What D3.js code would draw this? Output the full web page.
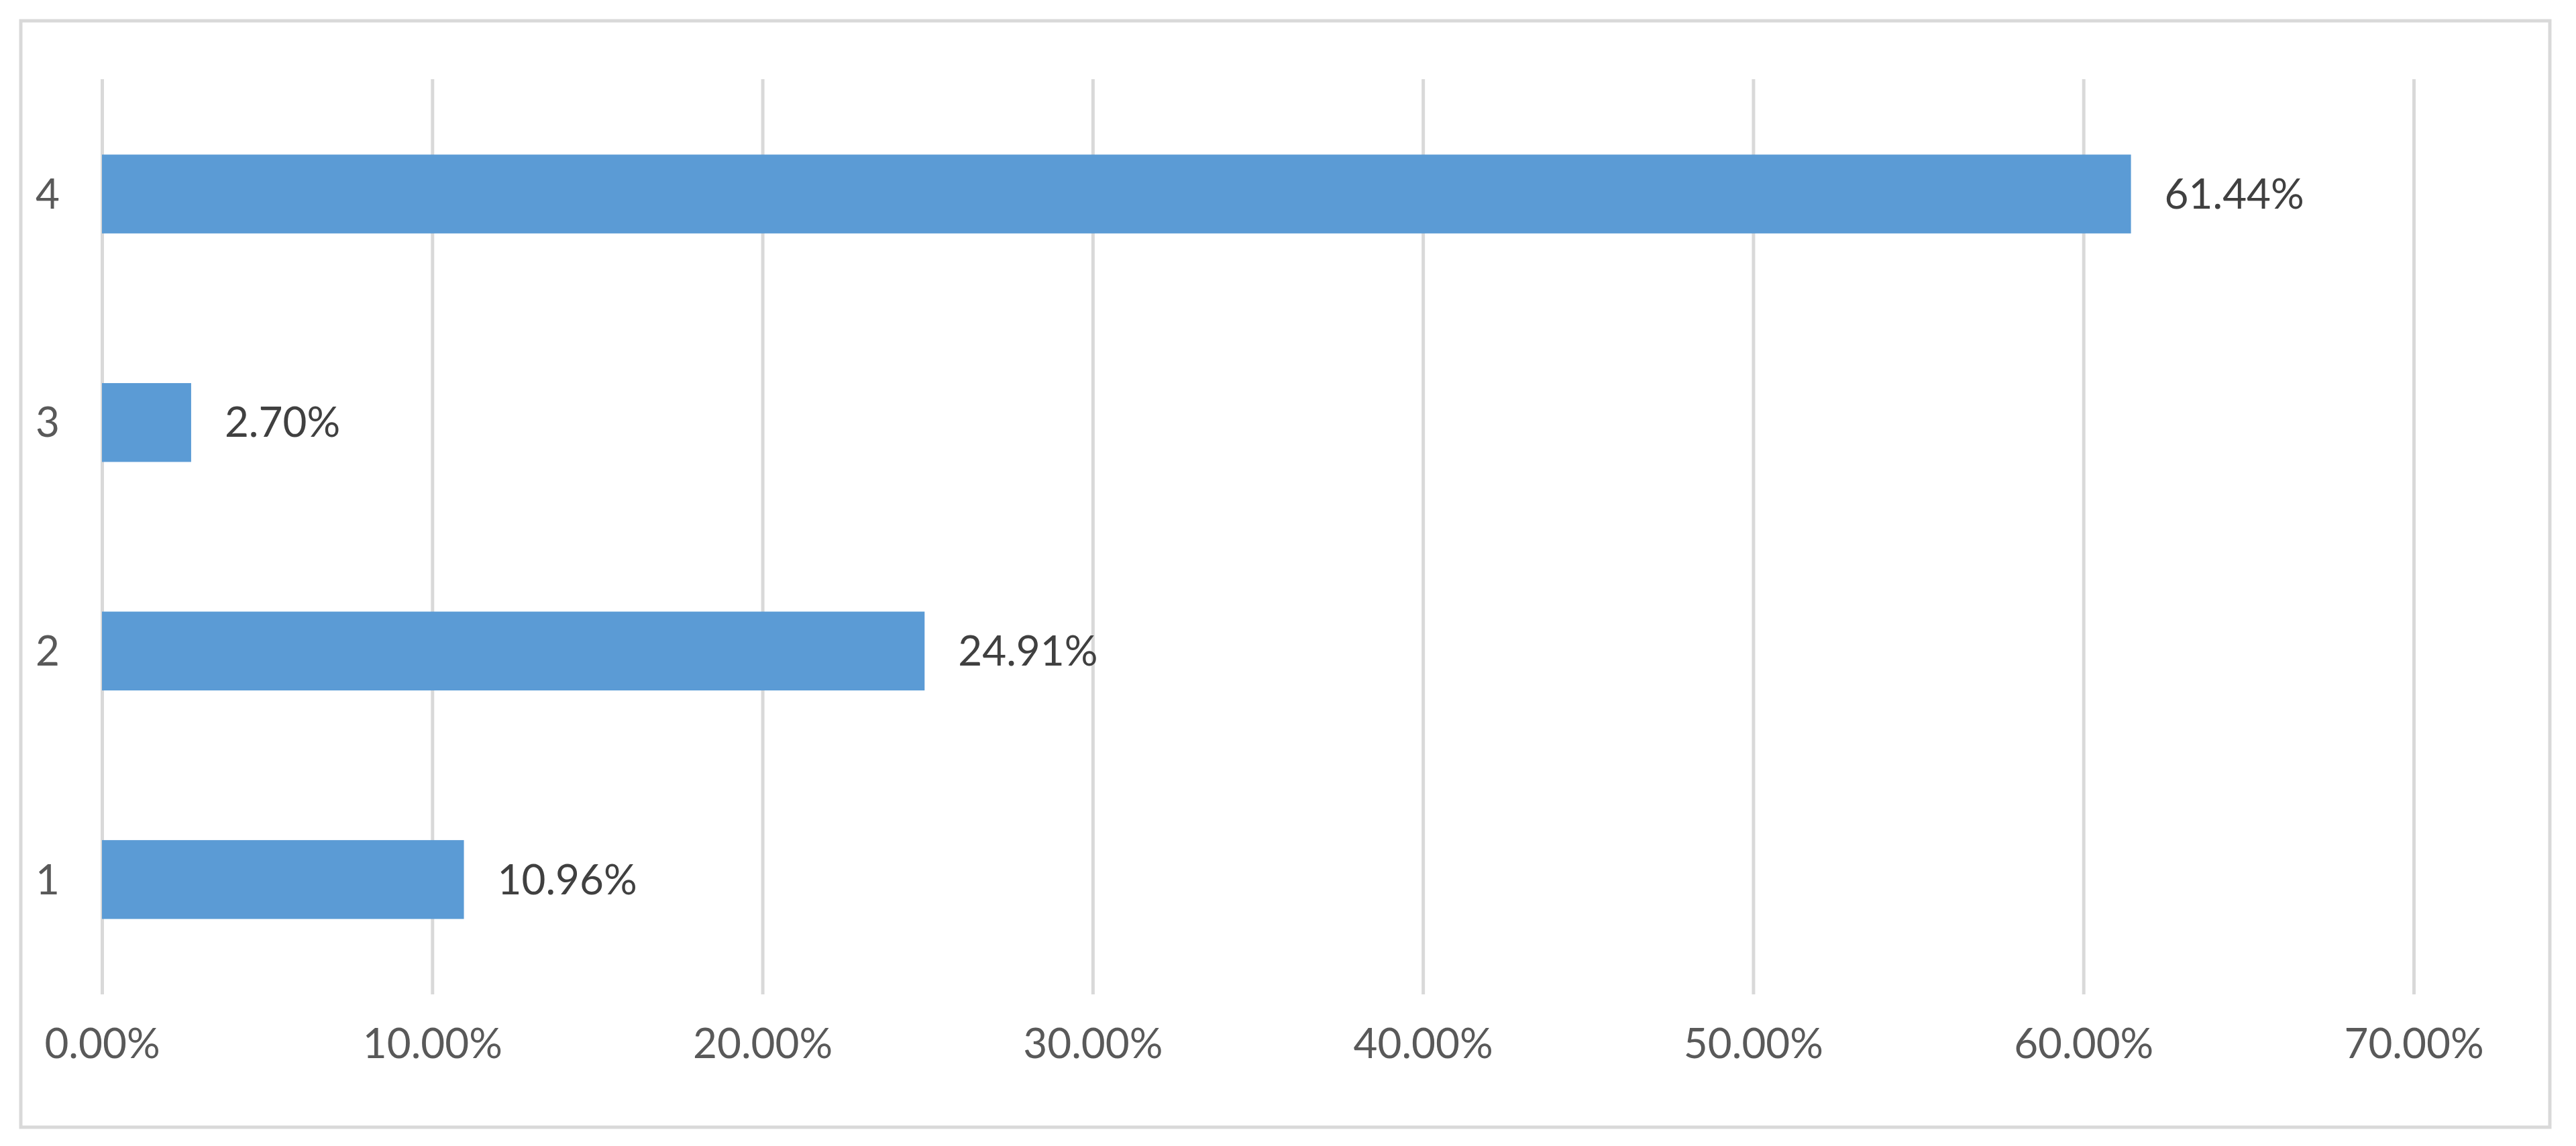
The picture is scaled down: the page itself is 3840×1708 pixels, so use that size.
<!doctype html>
<html>
<head>
<style>
  body { margin: 0; background: #fff; font-family: Lato, 'Open Sans', sans-serif; }
  .grid line { stroke: #d9d9d9; stroke-width: 5; }
  .grid path { stroke-width: 0; }
  .axis path, .axis line { stroke: none; }
  .axis text { font-size: 62px; fill: #595959; font-family: Lato, sans-serif; }
  text.value { font-size: 62px; fill: #404040; }
</style>
<script src="https://d3js.org/d3.v7.min.js"></script>
</head>
<body>
<svg width="3840" height="1708"></svg>
<script>
const categories = ['1', '2', '3', '4'];
const values = [10.96, 24.91, 2.70, 61.44];
const xTicks = [0, 10, 20, 30, 40, 50, 60, 70];

const svg = d3.select('svg');

svg.append('rect')
  .attr('x', 31).attr('y', 31)
  .attr('width', 3770).attr('height', 1649)
  .attr('fill', 'none').attr('stroke', '#d9d9d9').attr('stroke-width', 5);

const plotLeft = 152, plotRight = 3598, plotTop = 118, plotBottom = 1482;

const x = d3.scaleLinear().domain([0, 70]).range([plotLeft, plotRight]);
const y = d3.scaleBand().domain(categories.slice().reverse()).range([plotTop, plotBottom]).paddingInner(0.655).paddingOuter(0.33);

svg.append('g').attr('class', 'grid')
  .attr('transform', `translate(0, ${plotBottom})`)
  .call(d3.axisBottom(x).tickValues(xTicks).tickSize(-(plotBottom - plotTop)).tickFormat(''));

svg.append('g').attr('class', 'axis')
  .attr('transform', `translate(0, ${plotBottom + 48})`)
  .call(d3.axisBottom(x).tickValues(xTicks).tickSize(0).tickFormat(d => d.toFixed(2) + '%'))
  .selectAll('text').attr('dy', '0.71em');

svg.append('g').attr('class', 'axis')
  .attr('transform', `translate(${plotLeft - 60}, 0)`)
  .call(d3.axisLeft(y).tickSize(0))
  .selectAll('text').attr('dy', '0.35em');

const data = categories.map((c, i) => ({ c, v: values[i] }));

svg.selectAll('rect.bar').data(data).enter().append('rect')
  .attr('class', 'bar')
  .attr('x', x(0))
  .attr('y', d => y(d.c))
  .attr('width', d => x(d.v) - x(0))
  .attr('height', y.bandwidth())
  .attr('fill', '#5b9bd5');

svg.selectAll('text.value').data(data).enter().append('text')
  .attr('class', 'value')
  .attr('x', d => x(d.v) + 50)
  .attr('y', d => y(d.c) + y.bandwidth() / 2)
  .attr('dy', '0.35em')
  .text(d => d.v.toFixed(2) + '%');
</script>
</body>
</html>
